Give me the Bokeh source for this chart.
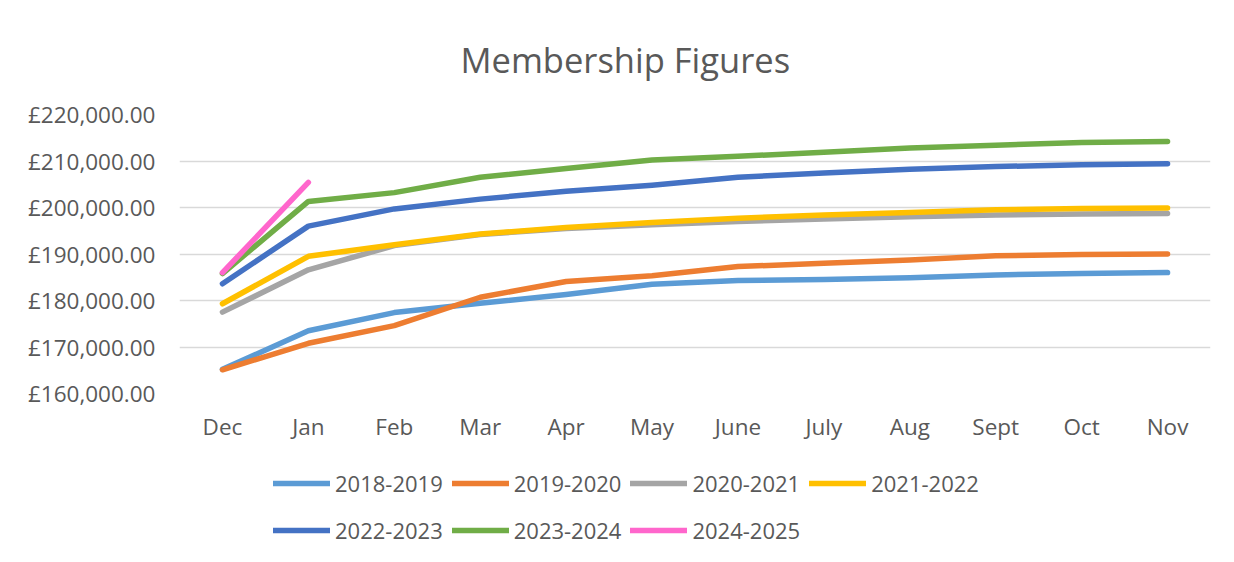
from bokeh.plotting import figure
from bokeh.models import (FactorRange, Range1d, FixedTicker, Legend, LegendItem, Title)
from bokeh.layouts import column
from bokeh.embed import file_html
from bokeh.resources import INLINE

months = ["Dec", "Jan", "Feb", "Mar", "Apr", "May", "June", "July", "Aug", "Sept", "Oct", "Nov"]

s2018_2019 = [165200, 173500, 177400, 179400, 181300, 183500, 184300, 184500, 184900, 185500, 185800, 186000]
s2019_2020 = [165100, 170800, 174600, 180700, 184100, 185300, 187300, 188000, 188700, 189600, 189900, 190000]
s2020_2021 = [177500, 186600, 191800, 194200, 195500, 196300, 197000, 197500, 198000, 198400, 198600, 198700]
s2021_2022 = [179300, 189500, 192000, 194300, 195700, 196800, 197700, 198400, 198900, 199500, 199800, 199900]
s2022_2023 = [183600, 196000, 199700, 201800, 203500, 204800, 206500, 207400, 208200, 208800, 209200, 209400]
s2023_2024 = [185800, 201300, 203200, 206500, 208400, 210200, 211000, 211900, 212800, 213400, 214000, 214200]
s2024_2025 = [186000, 205400]

series_names = ["2018-2019", "2019-2020", "2020-2021", "2021-2022", "2022-2023", "2023-2024", "2024-2025"]
series_values = [s2018_2019, s2019_2020, s2020_2021, s2021_2022, s2022_2023, s2023_2024, s2024_2025]
colors = ["#5B9BD5", "#ED7D31", "#A5A5A5", "#FFC000", "#4472C4", "#70AD47", "#FF66CC"]

y_ticks = [160000, 170000, 180000, 190000, 200000, 210000, 220000]
y_labels = ["£160,000.00", "£170,000.00", "£180,000.00", "£190,000.00",
            "£200,000.00", "£210,000.00", "£220,000.00"]

TEXT = "#595959"
FONT = "Open Sans"

p = figure(frame_width=1031, frame_height=279, output_backend="svg", toolbar_location=None,
           x_range=FactorRange(factors=months, range_padding=0),
           y_range=Range1d(160000, 220000),
           min_border_left=179, min_border_right=16, min_border_top=114, min_border_bottom=60)
p.outline_line_color = None
p.background_fill_color = "white"
p.border_fill_color = "white"

title = Title(text="Membership Figures", align="left", text_font=FONT, text_font_size="34.5px",
              text_font_style="normal", text_color=TEXT, standoff=64, offset=281)
p.add_layout(title, "above")

for name, vals, c in zip(series_names, series_values, colors):
    p.line(x=months[:len(vals)], y=vals, line_color=c, line_width=5.5,
           line_cap="round", line_join="round")

# axes
p.yaxis.ticker = FixedTicker(ticks=y_ticks)
p.yaxis.major_label_overrides = {t: l for t, l in zip(y_ticks, y_labels)}
for ax in (p.xaxis[0], p.yaxis[0]):
    ax.axis_line_color = None
    ax.major_tick_line_color = None
    ax.minor_tick_line_color = None
    ax.major_label_text_font = FONT
    ax.major_label_text_font_size = "22.5px"
    ax.major_label_text_color = TEXT
p.yaxis.major_label_standoff = 18
p.xaxis.major_label_standoff = 11

p.xgrid.grid_line_color = None
p.ygrid.grid_line_color = "#D9D9D9"
p.ygrid.grid_line_width = 1.3

# legend strip below the chart (placeholder renderers carry the line styles)
lg = figure(width=1226, height=105, output_backend="svg", toolbar_location=None,
            x_range=Range1d(0, 1), y_range=Range1d(0, 1),
            x_axis_type=None, y_axis_type=None, min_border=0)
lg.outline_line_color = None
lg.xgrid.visible = False
lg.ygrid.visible = False
nan = float("nan")
items = []
for name, c in zip(series_names, colors):
    r = lg.line(x=[nan], y=[nan], line_color=c, line_width=5.5, line_cap="round")
    items.append(LegendItem(label=name, renderers=[r]))

legend = Legend(items=items, location=(94, 9), orientation="horizontal", ncols=4,
                label_text_font=FONT, label_text_font_size="22px", label_text_color=TEXT,
                glyph_width=57, glyph_height=38, label_height=38, label_standoff=5,
                spacing=9, padding=0, margin=0, border_line_color=None,
                background_fill_alpha=0)
lg.add_layout(legend, "center")

layout = column(p, lg, spacing=0)
open("out.html", "w").write(file_html(layout, INLINE))
